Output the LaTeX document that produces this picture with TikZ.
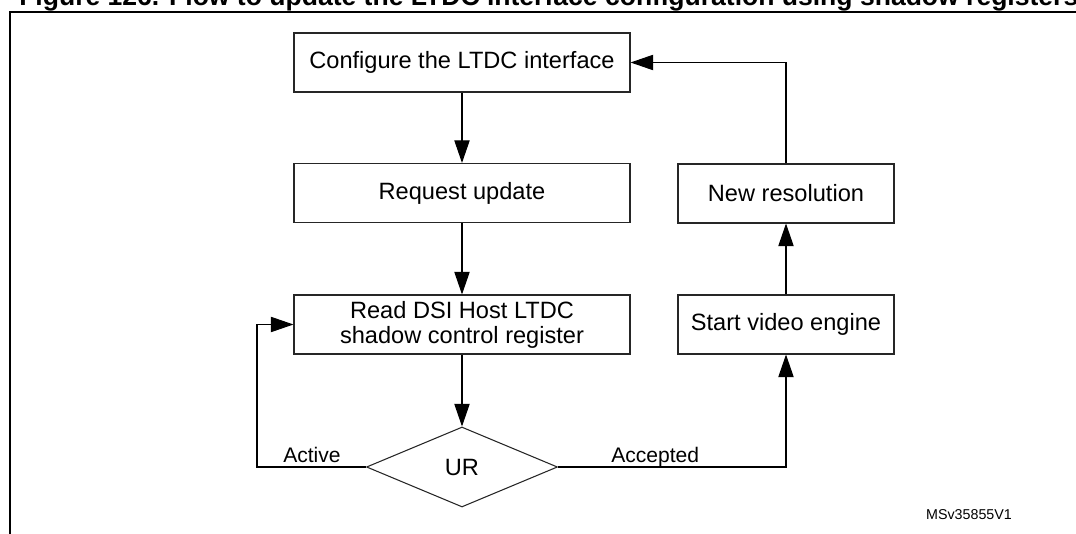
\documentclass[tikz,border=0pt]{standalone}
\usepackage{fontspec}
\setmainfont{Liberation Sans}
\usetikzlibrary{arrows.meta,shapes.geometric}
\begin{document}
\begin{tikzpicture}[x=0.75pt,y=-0.75pt,
  stepbox/.style={draw=black!85, line width=0.8pt, inner sep=0pt, align=center,
    minimum height=44.25pt, font=\fontsize{17.7pt}{18.8pt}\selectfont},
  widebox/.style={stepbox, minimum width=252pt},
  narrowbox/.style={stepbox, minimum width=162pt},
  decision/.style={diamond, draw=black!85, line width=0.8pt, inner sep=0pt,
    minimum width=143.25pt, minimum height=60pt, font=\fontsize{17.7pt}{18.8pt}\selectfont},
  flow/.style={line width=0.8pt, -{Triangle[length=17pt,width=11.5pt]}},
  lbl/.style={inner sep=0pt, font=\fontsize{15.8pt}{17pt}\selectfont},
  frameline/.style={line width=1.7pt}
]
\useasboundingbox (0,0) rectangle (1076,534);

% frame and cut title
\draw[frameline] (10,545) -- (10,12) -- (1100,12);
\node[anchor=base west, inner sep=0pt, font=\fontsize{19.9pt}{22pt}\selectfont\bfseries] (title) at (19,5.5)
  {Figure 126. Flow to update the LTDC interface configuration using shadow registers};

% nodes
\node[widebox] (cfg) at (462,62.5) {Configure the LTDC interface};
\node[widebox] (req) at (462,193) {Request update};
\node[widebox] (rd) at (462,324.5) {Read DSI Host LTDC\\shadow control register};
\node[decision] (ur) at (462,467) {UR};
\node[narrowbox] (sve) at (786,324.5) {Start video engine};
\node[narrowbox] (nres) at (786,193.5) {New resolution};

% connectors
\draw[flow] (cfg.south) -- (req.north);
\draw[flow] (req.south) -- (rd.north);
\draw[flow] (rd.south) -- (ur.north);
\coordinate (lc) at (257,467);
\draw[flow] (ur.west) -- (lc) |- (rd.west);
\coordinate (rc) at (786,467);
\draw[flow] (ur.east) -- (rc) -- (sve.south);
\draw[flow] (sve.north) -- (nres.south);
\draw[flow] (nres.north) |- (cfg.east);

% labels
\node[lbl, anchor=base west] (active) at (283,463) {Active};
\node[lbl, anchor=base west] (accepted) at (611,463) {Accepted};
\node[inner sep=0pt, font=\fontsize{10.7pt}{12pt}\selectfont] (ref) at (969,515) {MSv35855V1};
\end{tikzpicture}
\end{document}
